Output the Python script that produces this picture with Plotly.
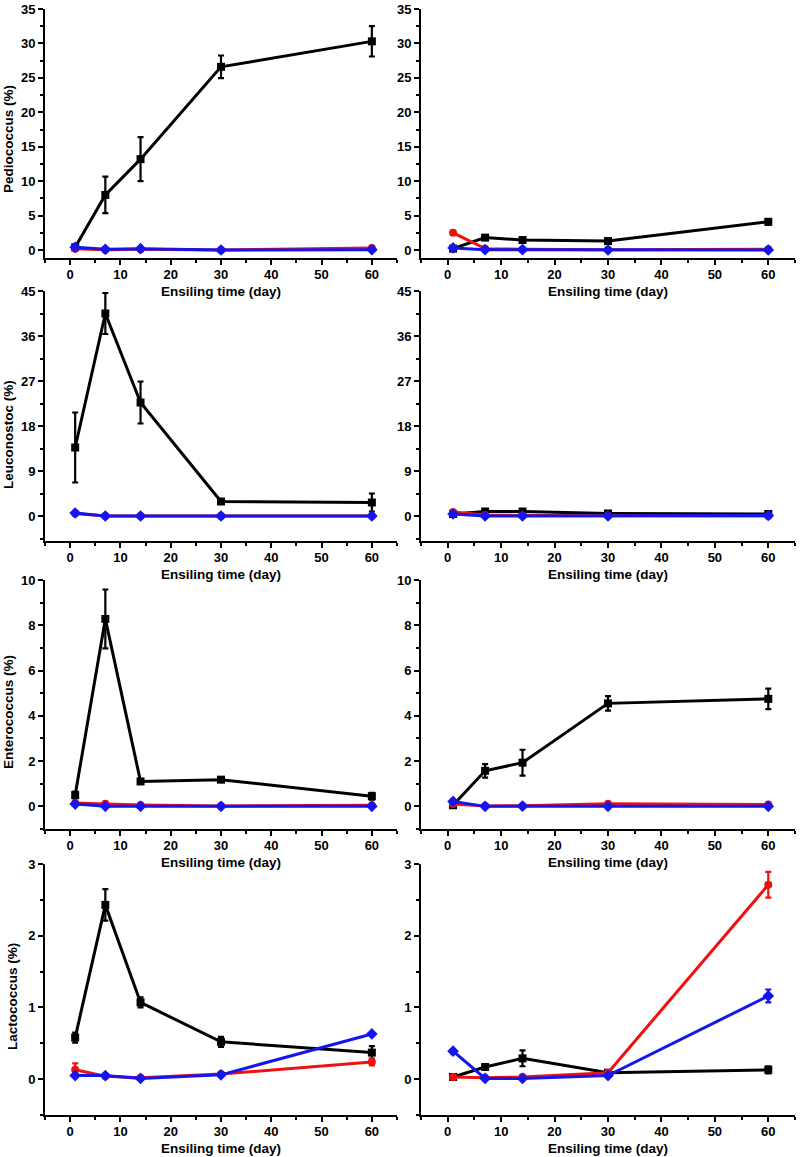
import plotly.graph_objects as go

days = [1, 7, 14, 30, 60]

# Pediococcus (%)
ped_L_black = [0.4, 8.0, 13.2, 26.6, 30.3]
ped_L_black_err = [0.2, 2.65, 3.2, 1.65, 2.2]
ped_L_red = [0.2, 0.05, 0.1, 0.0, 0.3]
ped_L_red_err = [0.1, 0.05, 0.05, 0.05, 0.1]
ped_L_blue = [0.4, 0.1, 0.2, 0.0, 0.05]
ped_L_blue_err = [0.1, 0.1, 0.1, 0.05, 0.05]

ped_R_black = [0.2, 1.8, 1.45, 1.3, 4.1]
ped_R_black_err = [0.1, 0.15, 0.2, 0.15, 0.4]
ped_R_red = [2.5, 0.2, 0.1, 0.05, 0.1]
ped_R_red_err = [0.3, 0.05, 0.05, 0.05, 0.05]
ped_R_blue = [0.3, 0.05, 0.05, 0.0, 0.0]
ped_R_blue_err = [0.1, 0.05, 0.05, 0.05, 0.05]

# Leuconostoc (%)
leu_L_black = [13.7, 40.5, 22.7, 2.9, 2.7]
leu_L_black_err = [7.0, 4.1, 4.2, 0.4, 1.8]
leu_L_red = [0.5, 0.0, 0.0, 0.0, 0.0]
leu_L_red_err = [0.2, 0.05, 0.05, 0.05, 0.05]
leu_L_blue = [0.6, 0.0, 0.0, 0.0, 0.0]
leu_L_blue_err = [0.2, 0.05, 0.05, 0.05, 0.05]

leu_R_black = [0.4, 0.9, 0.9, 0.5, 0.4]
leu_R_black_err = [0.2, 0.15, 0.15, 0.1, 0.1]
leu_R_red = [0.8, 0.2, 0.1, 0.1, 0.0]
leu_R_red_err = [0.2, 0.05, 0.05, 0.05, 0.05]
leu_R_blue = [0.4, 0.0, 0.0, 0.0, 0.1]
leu_R_blue_err = [0.1, 0.05, 0.05, 0.05, 0.05]

# Enterococcus (%)
ent_L_black = [0.5, 8.28, 1.1, 1.18, 0.45]
ent_L_black_err = [0.15, 1.3, 0.05, 0.1, 0.15]
ent_L_red = [0.15, 0.12, 0.06, 0.02, 0.05]
ent_L_red_err = [0.03, 0.03, 0.02, 0.02, 0.02]
ent_L_blue = [0.1, 0.0, 0.0, 0.0, 0.0]
ent_L_blue_err = [0.05, 0.02, 0.02, 0.02, 0.02]

ent_R_black = [0.05, 1.57, 1.93, 4.55, 4.75]
ent_R_black_err = [0.05, 0.3, 0.57, 0.32, 0.45]
ent_R_red = [0.1, 0.02, 0.03, 0.12, 0.08]
ent_R_red_err = [0.03, 0.02, 0.02, 0.05, 0.03]
ent_R_blue = [0.22, 0.0, 0.01, 0.0, 0.0]
ent_R_blue_err = [0.04, 0.02, 0.02, 0.02, 0.02]

# Lactococcus (%)
lac_L_black = [0.58, 2.43, 1.07, 0.52, 0.37]
lac_L_black_err = [0.07, 0.22, 0.07, 0.07, 0.09]
lac_L_red = [0.13, 0.04, 0.02, 0.07, 0.24]
lac_L_red_err = [0.09, 0.02, 0.02, 0.02, 0.05]
lac_L_blue = [0.05, 0.05, 0.01, 0.06, 0.63]
lac_L_blue_err = [0.02, 0.02, 0.02, 0.02, 0.02]

lac_R_black = [0.03, 0.17, 0.29, 0.09, 0.13]
lac_R_black_err = [0.02, 0.03, 0.11, 0.02, 0.05]
lac_R_red = [0.03, 0.02, 0.03, 0.09, 2.71]
lac_R_red_err = [0.03, 0.02, 0.02, 0.02, 0.18]
lac_R_blue = [0.39, 0.01, 0.01, 0.05, 1.16]
lac_R_blue_err = [0.03, 0.02, 0.02, 0.02, 0.09]

y_titles = ["Pediococcus (%)", "Leuconostoc (%)", "Enterococcus (%)", "Lactococcus (%)"]
x_title = "Ensiling time (day)"

panels = [
    (ped_L_black, ped_L_black_err, ped_L_red, ped_L_red_err, ped_L_blue, ped_L_blue_err),
    (ped_R_black, ped_R_black_err, ped_R_red, ped_R_red_err, ped_R_blue, ped_R_blue_err),
    (leu_L_black, leu_L_black_err, leu_L_red, leu_L_red_err, leu_L_blue, leu_L_blue_err),
    (leu_R_black, leu_R_black_err, leu_R_red, leu_R_red_err, leu_R_blue, leu_R_blue_err),
    (ent_L_black, ent_L_black_err, ent_L_red, ent_L_red_err, ent_L_blue, ent_L_blue_err),
    (ent_R_black, ent_R_black_err, ent_R_red, ent_R_red_err, ent_R_blue, ent_R_blue_err),
    (lac_L_black, lac_L_black_err, lac_L_red, lac_L_red_err, lac_L_blue, lac_L_blue_err),
    (lac_R_black, lac_R_black_err, lac_R_red, lac_R_red_err, lac_R_blue, lac_R_blue_err),
]

W, H = 800, 1157
# pixel layout (left, right) and (top, bottom)
cols_px = [(45, 397), (421, 795)]
rows_px = [(9, 258), (291, 541), (580, 829), (864, 1115)]
y_ranges = [(-1.16, 35), (-5, 45), (-1, 10), (-0.5, 3)]
y_dticks = [5, 9, 2, 1]
ytitle_pos = [(8, 139), (8, 435), (8, 712), (12, 997)]

colors = ["#000000", "#ee1111", "#1515ee"]
symbols = ["square", "circle", "diamond"]
sizes = [8, 8, 9]

font_bold = dict(family="Arial, Liberation Sans, sans-serif", size=13.5, color="black", weight=700)
tick_font = dict(family="Arial, Liberation Sans, sans-serif", size=13, color="black", weight=700)

fig = go.Figure()
annotations = []

for i, pdata in enumerate(panels):
    r, c = divmod(i, 2)
    idx = i + 1
    xa = "x" if idx == 1 else f"x{idx}"
    ya = "y" if idx == 1 else f"y{idx}"
    for k in range(3):
        vals, errs = pdata[2 * k], pdata[2 * k + 1]
        fig.add_trace(go.Scatter(
            x=days, y=vals, xaxis=xa, yaxis=ya, mode="lines+markers",
            line=dict(color=colors[k], width=3),
            marker=dict(symbol=symbols[k], size=sizes[k], color=colors[k]),
            error_y=dict(type="data", array=errs, visible=True, color=colors[k],
                         thickness=2.2, width=3),
            showlegend=False, cliponaxis=False,
        ))
    x0, x1 = cols_px[c]
    t, b = rows_px[r]
    xd = [x0 / W, x1 / W]
    yd = [1 - b / H, 1 - t / H]
    xkey = "xaxis" if idx == 1 else f"xaxis{idx}"
    ykey = "yaxis" if idx == 1 else f"yaxis{idx}"
    fig.update_layout(**{
        xkey: dict(domain=xd, anchor=ya, range=[-5, 65], showgrid=False, zeroline=False,
                   showline=True, linecolor="black", linewidth=2, automargin=False,
                   ticks="outside", ticklen=5, tickwidth=2, tickcolor="black",
                   tick0=0, dtick=10, tickfont=tick_font, ticklabelstandoff=-2,
                   minor=dict(ticks="outside", ticklen=3, tickwidth=1.5, tickcolor="black", dtick=5, tick0=0, showgrid=False)),
        ykey: dict(domain=yd, anchor=xa, range=list(y_ranges[r]), showgrid=False, zeroline=False,
                   showline=True, linecolor="black", linewidth=2, automargin=False,
                   ticks="outside", ticklen=5, tickwidth=2, tickcolor="black",
                   tick0=0, dtick=y_dticks[r], tickfont=tick_font,
                   minor=dict(ticks="outside", ticklen=3, tickwidth=1.5, tickcolor="black", dtick=y_dticks[r] / 2, tick0=0, showgrid=False)),
    })
    annotations.append(dict(
        text=x_title, xref="paper", yref="paper", x=(x0 + x1) / 2 / W,
        y=1 - (b + 33) / H, xanchor="center", yanchor="middle", showarrow=False,
        font=font_bold))
    if c == 0:
        px, py = ytitle_pos[r]
        annotations.append(dict(
            text=y_titles[r], xref="paper", yref="paper", x=px / W, y=1 - py / H,
            xanchor="center", yanchor="middle", showarrow=False, textangle=-90,
            font=font_bold))

fig.update_layout(
    width=W, height=H, margin=dict(l=0, r=0, t=0, b=0, autoexpand=False),
    paper_bgcolor="white", plot_bgcolor="white",
    annotations=annotations,
)

fig.write_html("out.html", config={"displayModeBar": False},
               post_script="document.body.style.margin='0';document.body.style.overflow='hidden';")
